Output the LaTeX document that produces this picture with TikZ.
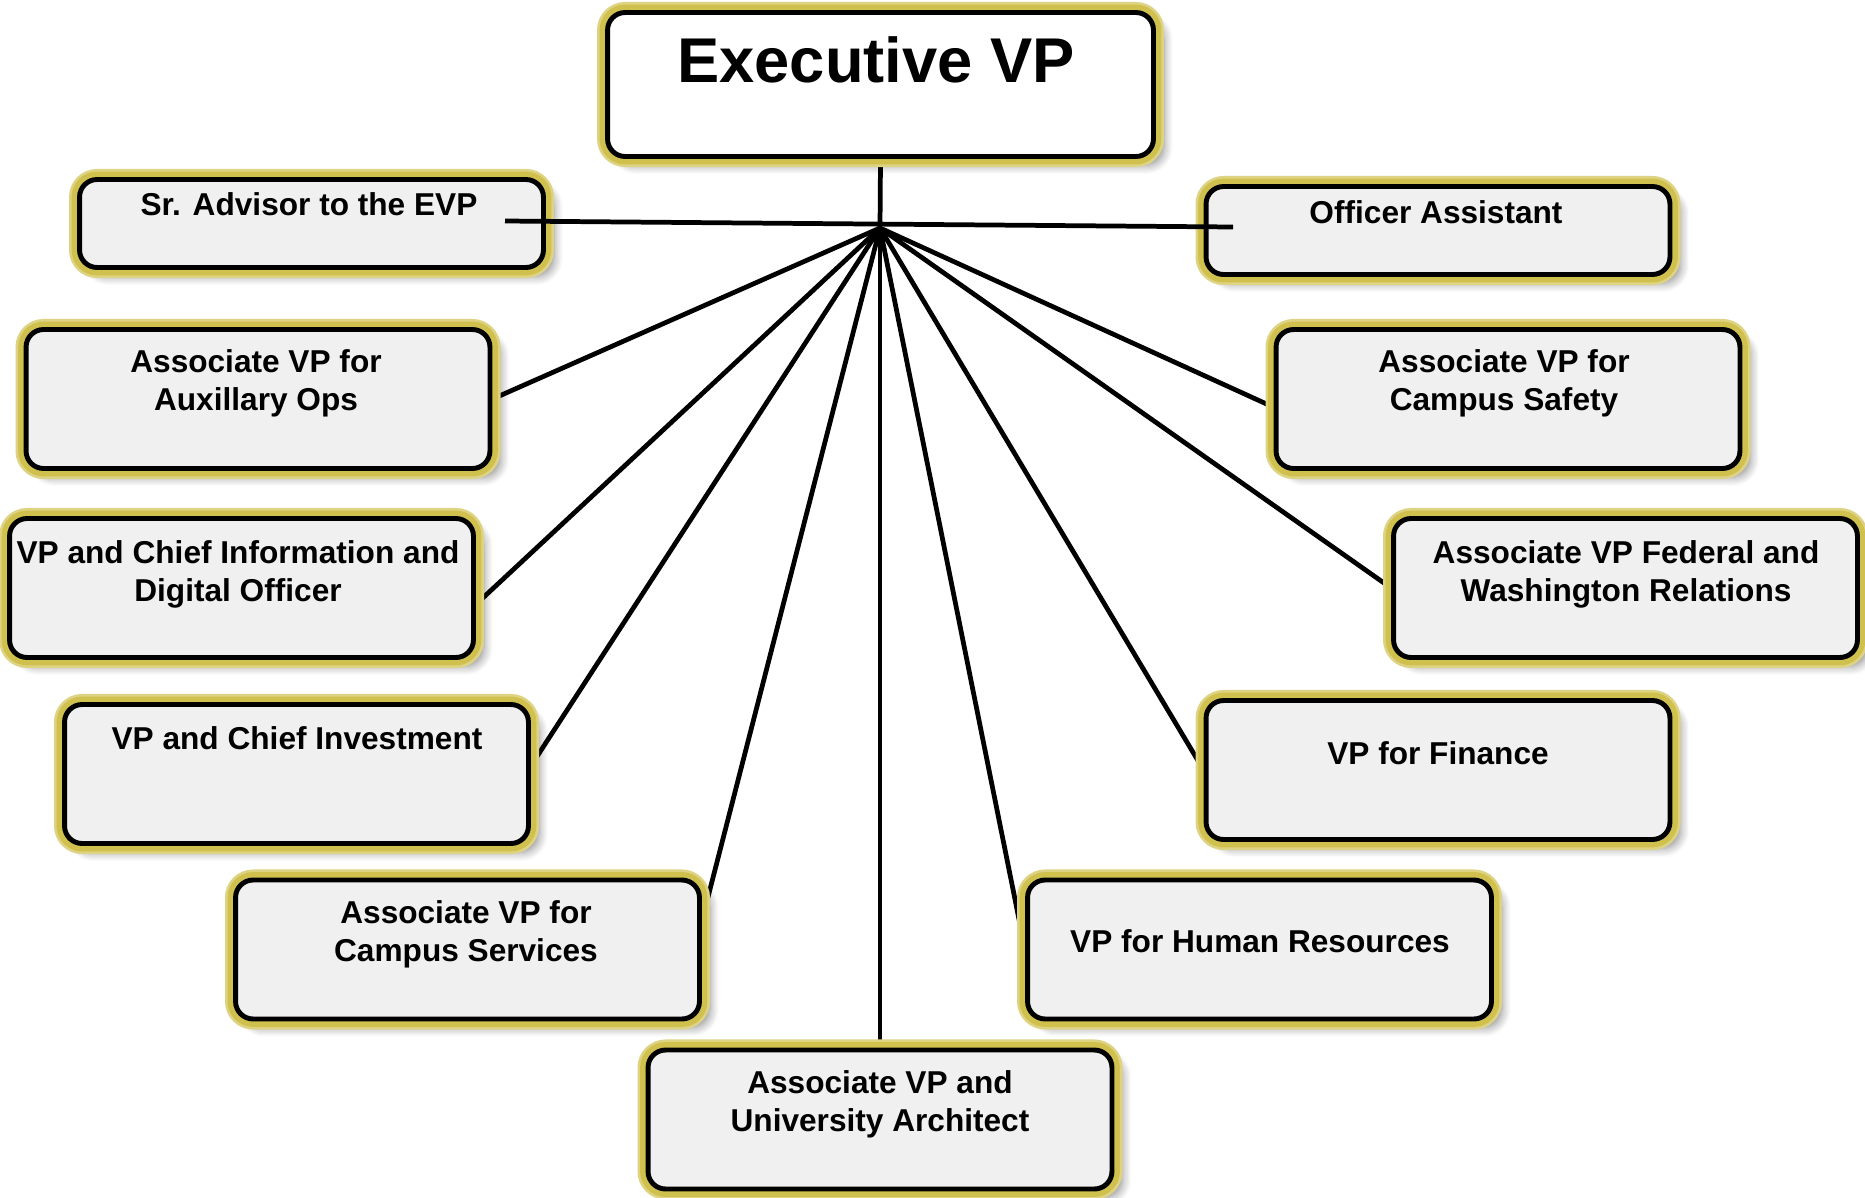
\documentclass[tikz,border=0pt]{standalone}
\usepackage{fontspec}
\setmainfont{Liberation Sans}
\usetikzlibrary{backgrounds,shadows.blur}
\definecolor{glowyellow}{RGB}{208,192,78}
\definecolor{boxgray}{RGB}{240,240,240}
\tikzset{
  unit/.style={rectangle, rounded corners=10pt, draw=black, line width=2.8pt, fill=boxgray,
    minimum width=9.28cm, minimum height=2.78cm, inner sep=0pt,
    blur shadow={shadow xshift=6pt, shadow yshift=-5pt, shadow blur steps=8, shadow blur radius=5pt, shadow opacity=45},
    preaction={draw=glowyellow!70!white, line width=12pt},
    preaction={draw=glowyellow, line width=9pt}},
  unittext/.style={align=center, font=\bfseries\fontsize{18}{21.6}\selectfont},
  link/.style={line width=2.7pt, black},
}

\begin{document}
\begin{tikzpicture}[x=0.02cm,y=-0.02cm]
        %page frame
        \useasboundingbox (0,0) rectangle (1865,1197);

        %the boxes
        \node[unit, minimum width=10.92cm, minimum height=2.88cm, fill=white] (evp) at (880.5,84.5) {};
        \node[unit, minimum height=1.76cm] (sr) at (311.5,223.5) {};
        \node[unit, minimum height=1.76cm] (off) at (1438,230.5) {};
        \node[unit] (aux) at (258,399) {};
        \node[unit] (safe) at (1508,399) {};
        \node[unit] (cio) at (241.5,588) {};
        \node[unit] (fed) at (1625.5,588) {};
        \node[unit] (inv) at (296.5,774) {};
        \node[unit] (fin) at (1438,770) {};
        \node[unit] (serv) at (467.5,949.5) {};
        \node[unit] (hr) at (1259.5,949.5) {};
        \node[unit] (arch) at (880,1119.5) {};

        %the titles
        \node[unittext, font=\bfseries\fontsize{36}{42}\selectfont] (evp-t) at (876,60) {Executive VP};
        \node[unittext] (sr-t) at (309,204) {Sr. Advisor to the EVP};
        \node[unittext] (off-t) at (1436,212) {Officer Assistant};
        \node[unittext] (aux-t) at (256,383) {Associate VP for\\Auxillary Ops};
        \node[unittext] (safe-t) at (1504,383) {Associate VP for\\Campus Safety};
        \node[unittext] (cio-t) at (238,574) {VP and Chief Information and\\Digital Officer};
        \node[unittext] (fed-t) at (1626,574) {Associate VP Federal and\\Washington Relations};
        \node[unittext] (inv-t) at (297,738) {VP and Chief Investment};
        \node[unittext] (fin-t) at (1438,753) {VP for Finance};
        \node[unittext] (serv-t) at (466,934) {Associate VP for\\Campus Services};
        \node[unittext] (hr-t) at (1260,941) {VP for Human Resources};
        \node[unittext] (arch-t) at (880,1104) {Associate VP and\\University Architect};

        %spokes from the hub, behind the boxes
        \coordinate (hub) at (880,228);
        \begin{pgfonlayer}{background}
          \draw[link] (evp.south) -- (hub);
          \foreach \dst in {aux.east,cio.-4,inv.2,serv.7,arch.north,hr.west,fin.west,fed.west,safe.182}{
            \draw[link] (hub) -- (\dst);
          }
        \end{pgfonlayer}

        %cross line over the two top boxes
        \coordinate (sr-in) at (505,221);
        \coordinate (off-in) at (1233,227);
        \draw[link] (sr-in) -- (off-in);
      \end{tikzpicture}
\end{document}
